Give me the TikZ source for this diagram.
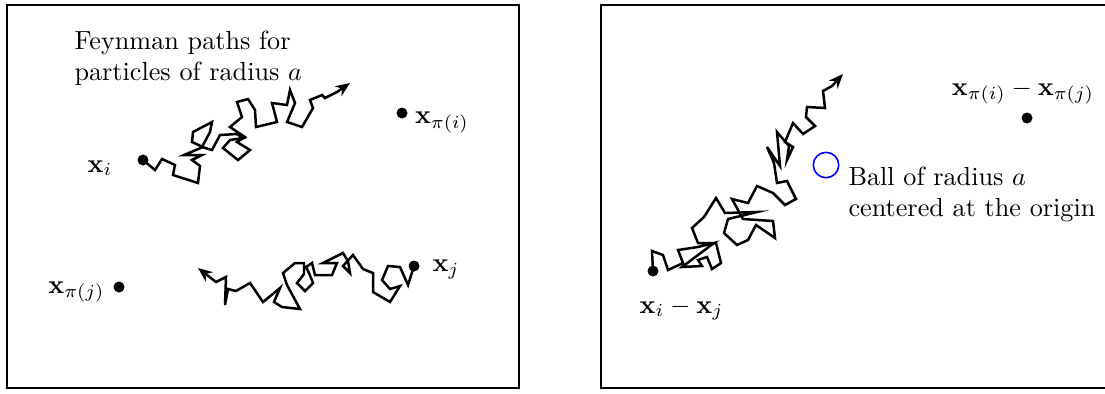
\documentclass[tikz,border=0pt]{standalone}
\usepackage{amsmath}
\usetikzlibrary{arrows.meta}

\begin{document}
\begin{tikzpicture}[x=0.3817pt, y=-0.3817pt, every node/.style={inner sep=0pt}]
  \tikzset{
    dot/.style={circle, fill, minimum size=4.2pt},
    walk/.style={line width=0.95pt, -{Stealth[length=5.5pt, width=4.5pt]}},
    panel/.style={draw, line width=0.8pt},
    lbl/.style={anchor=base}
  }
  \useasboundingbox (0,0) rectangle (1105,393);
  \clip (0,0) rectangle (1105,393);

  % Feynman paths of the two particles
  \begin{scope}
    \draw[panel] (7,5) rectangle (519,388);
    \node[anchor=north west, align=left] (feyn) at (74,30) {Feynman paths for\\particles of radius $a$};
    \node[dot] (xi)   at (143,160) {};
    \node[dot] (xpii) at (402,113) {};
    \node[dot] (xj)   at (414,266) {};
    \node[dot] (xpij) at (119,287) {};
    \node[lbl] (lxi)   at (100,172)   {$\mathbf{x}_i$};
    \node[lbl] (lxpii) at (442,123.5) {$\mathbf{x}_{\pi(i)}$};
    \node[lbl] (lxj)   at (446,271.5) {$\mathbf{x}_j$};
    \node[lbl] (lxpij) at (76.5,293)  {$\mathbf{x}_{\pi(j)}$};
    \coordinate (tipA) at (350,83);
    \coordinate (tipB) at (198,268);
    \draw[walk] (xi.center) -- (155,170) -- (162,159) -- (175,165) -- (173,175) -- (198,183) -- (200,166)
      -- (192,160) -- (202,155) -- (184,155) -- (203,147) -- (192,142) -- (193,132) -- (212,122) -- (210,132)
      -- (202,147) -- (212,150) -- (220,135) -- (237,134) -- (243,138) -- (230,140) -- (223,148) -- (238,160)
      -- (250,150) -- (237,142) -- (245,137) -- (230,127) -- (242,117) -- (237,102) -- (248,99) -- (255,110)
      -- (256,127) -- (277,122) -- (272,103) -- (287,105) -- (290,90) -- (295,103) -- (287,122) -- (302,127)
      -- (313,108) -- (310,100) -- (322,95) -- (325,98) -- (337,92) -- (tipA);
    \draw[walk] (xj.center) -- (408,285) -- (400,267) -- (388,266) -- (382,280) -- (390,289) -- (400,286)
      -- (390,302) -- (373,292) -- (373,273) -- (363,269) -- (353,255) -- (343,266) -- (350,273) -- (348,261)
      -- (343,253) -- (323,263) -- (337,263) -- (332,275) -- (315,275) -- (312,263) -- (306,267) -- (309,273)
      -- (313,283) -- (305,291) -- (297,283) -- (304,274) -- (304,263) -- (295,263) -- (283,273) -- (287,285)
      -- (300,309) -- (282,307) -- (274,302) -- (280,288) -- (263,302) -- (250,283) -- (236,291) -- (228,289)
      -- (225,305) -- (226,277) -- (216,282) -- (tipB);
  \end{scope}

  % relative coordinate and the ball at the origin
  \begin{scope}
    \draw[panel] (601,5) rectangle (1130,388);
    \node[dot] (xdiff)  at (653,271)  {};
    \node[dot] (xpdiff) at (1027,118) {};
    \node[circle, draw=blue, semithick, minimum size=9.7pt] (ball) at (826,165) {};
    \node[anchor=north west, align=left] (balltext) at (848,166.5) {Ball of radius $a$\\centered at the origin};
    \node[lbl] (lxdiff)  at (681.5,313) {$\mathbf{x}_i-\mathbf{x}_j$};
    \node[lbl] (lxpdiff) at (1023,95)   {$\mathbf{x}_{\pi(i)}-\mathbf{x}_{\pi(j)}$};
    \coordinate (tipC) at (843,74);
    \draw[walk] (xdiff.center) -- (652,251) -- (663,255) -- (668,270) -- (683,263) -- (678,250) -- (698,247)
      -- (714,243) -- (682,267) -- (702,266) -- (698,260) -- (707,257) -- (712,269) -- (721,263) -- (716,243)
      -- (698,243) -- (692,228) -- (704,217) -- (716,198) -- (725,213) -- (757,212) -- (728,219) -- (724,233)
      -- (737,245) -- (748,240) -- (756,225) -- (775,238) -- (773,221) -- (743,219) -- (732,199) -- (748,203)
      -- (757,186) -- (773,193) -- (785,205) -- (796,199) -- (787,181) -- (777,183) -- (774,163) -- (767,147)
      -- (780,166) -- (777,132) -- (789,146) -- (787,160) -- (793,147) -- (785,142) -- (793,123) -- (803,134)
      -- (815,126) -- (806,117) -- (807,107) -- (825,108) -- (823,91) -- (832,86) -- (tipC);
  \end{scope}
\end{tikzpicture}
\end{document}
